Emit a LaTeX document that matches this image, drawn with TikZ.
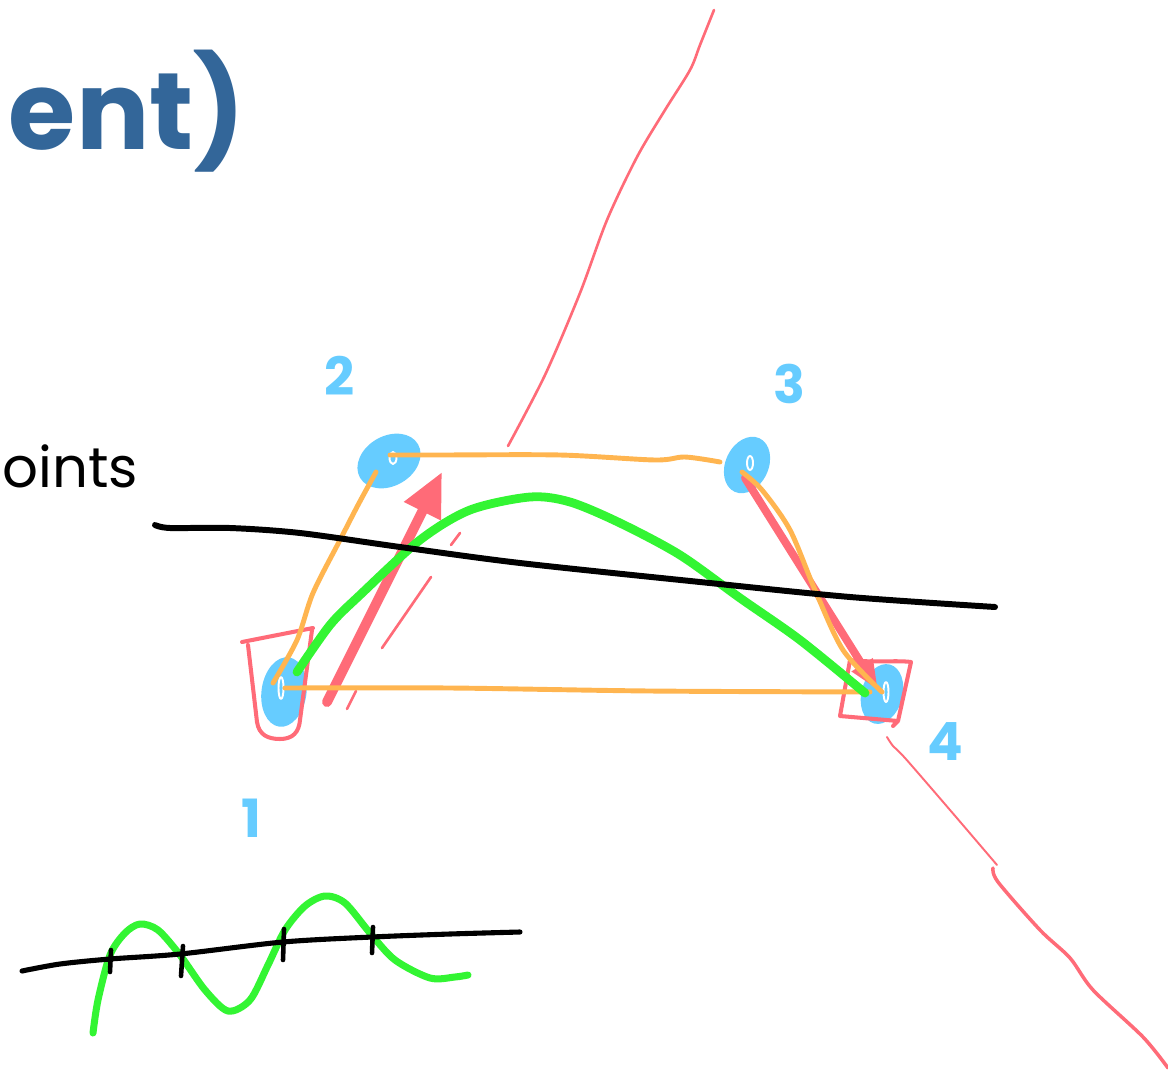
\documentclass[tikz,border=0pt]{standalone}
\usepackage{fontspec}
\setmainfont{Poppins}
\usetikzlibrary{positioning,arrows.meta,shapes.geometric}
\definecolor{dotblue}{HTML}{66CCFF}
\definecolor{penred}{HTML}{FF6B78}
\definecolor{penorange}{HTML}{FFB550}
\definecolor{pengreen}{HTML}{33F533}
\definecolor{titleblue}{HTML}{336699}

\begin{document}
\begin{tikzpicture}[x=0.02cm, y=-0.02cm,
  line cap=round, line join=round,
  blob/.style={ellipse, fill=dotblue, inner sep=0pt},
  hole/.style={draw=white, line width=1.1pt},
  num/.style={text=dotblue, inner sep=0pt, font=\fontsize{30}{32}\selectfont\bfseries},
  rdpen/.style={draw=penred, line width=2.3pt},
  hair/.style={draw=penred, line width=1.5pt},
  arr/.style={draw=penred, line width=5.7pt, -{Triangle[length=25pt,width=22pt]}},
  orpen/.style={draw=penorange, line width=2.8pt},
  grpen/.style={draw=pengreen, line width=5pt},
  blpen/.style={draw=black, line width=3.4pt}]
\useasboundingbox (0,0) rectangle (1168,1074);

% slide text at the left edge
\node[anchor=base east, inner sep=0pt, text=titleblue, font=\fontsize{62}{66}\selectfont\bfseries] (title) at (246,150) {ent)};
\node[anchor=base west, inner sep=0pt, font=\fontsize{32}{35}\selectfont] (pts) at (2,487) {oints};

% the four points
\node[blob, minimum width=0.9cm, minimum height=1.4cm, rotate=-8] (p1) at (284,692) {};
\node[blob, minimum width=1.34cm, minimum height=1cm, rotate=30] (p2) at (389,461) {};
\node[blob, minimum width=0.86cm, minimum height=1.18cm, rotate=-25] (p3) at (747,465) {};
\node[blob, minimum width=0.82cm, minimum height=1.22cm, rotate=-15] (p4) at (882,694) {};
\draw[hole] ([shift={(-3,-4)}]p1.center) ellipse [x radius=2.5, y radius=11];
\draw[hole] ([shift={(4,-3)}]p2.center) ellipse [x radius=3.5, y radius=6];
\draw[hole] ([shift={(3,-2)}]p3.center) ellipse [x radius=3, y radius=7];
\draw[hole] ([shift={(4,-2)}]p4.center) ellipse [x radius=2.5, y radius=10];

\node[num, on grid, below left=2.52cm and 0.66cm of p1] (n1) {1};
\node[num, on grid, above left=1.7cm and 0.98cm of p2] (n2) {2};
\node[num, on grid, above right=1.62cm and 0.84cm of p3] (n3) {3};
\node[num, on grid, below right=0.96cm and 1.26cm of p4] (n4) {4};

% red marks
\draw[rdpen] (242,642) -- (313,628)
  (248,645) -- (257,722) .. controls (259,735) and (268,739) .. (280,739)
  .. controls (293,739) and (299,732) .. (300,720) -- (312,630);
\draw[rdpen] (850,660) .. controls (875,663) and (895,660) .. (911,662)
  -- (898,721) -- (840,716) -- cycle (898,721) -- (893,726);
\draw[arr] ([shift={(43,10)}]p1.center) -- ([shift={(53,11)}]p2.center);
\draw[arr, line width=4.5pt, -{Triangle[length=17pt,width=13pt]}] ([shift={(-2,13)}]p3.center) -- ([shift={(-4,-4)}]p4.center);
\draw[hair] (460,533) -- (451,545) (431,577) -- (382,648) (356,691) -- (347,709);
\draw[hair] plot[smooth] coordinates {(508,446) (545,375) (580,293) (607,220) (637,157) (665,110) (690,70) (700,45) (714,10)};
\draw[hair, line width=1.1pt] plot[smooth] coordinates {(887,737) (893,746) (905,758) (950,810) (997,865)};
\draw[hair, line width=2pt] plot[smooth] coordinates {(993,868) (998,882) (1040,930) (1070,958) (1093,990) (1143,1037) (1168,1068)};

% orange sides
\draw[orpen] plot[smooth] coordinates {([shift={(1,-6)}]p2.center) (440,455) (560,455) (655,460) (685,457) ([shift={(-27,-3)}]p3.center)};
\draw[orpen] plot[smooth] coordinates {([shift={(-13,11)}]p2.center) (358,505) (340,540) (313,593) (297,640) ([shift={(-11,-9)}]p1.center)};
\draw[orpen] plot[smooth] coordinates {([shift={(1,-4)}]p1.center) (450,688) (650,691) ([shift={(-12,-2)}]p4.center)};
\draw[orpen] plot[smooth] coordinates {([shift={(-5,7)}]p3.center) (762,490) (790,530) (815,590) (843,650) ([shift={(0,-2)}]p4.center)};

% green curves
\draw[grpen] plot[smooth] coordinates {([shift={(13,-20)}]p1.center) (330,625) (360,595) (420,540) (470,510) (530,497) (570,502) (620,523) (680,555) (740,598) (800,640) ([shift={(-17,-1)}]p4.center)};
\draw[grpen, line width=4pt] plot[smooth] coordinates {(93,1033) (98,1000) (110,955) (125,933) (140,924) (158,930) (180,955) (205,990) (228,1011) (250,1000) (268,965) (285,930) (305,906) (325,896) (345,903) (370,933) (395,960) (430,978) (455,977) (468,975)};

% black lines
\draw[blpen] plot[smooth] coordinates {(155,525) (170,528) (230,528) (300,533) (400,547) (520,563) (700,582) (850,597) (995,607)};
\draw[blpen, line width=2.9pt] plot[smooth] coordinates {(22,971) (60,964) (110,959) (180,954) (283,942) (372,937) (450,934) (520,932)};
\draw[blpen, line width=2.6pt] (111,950) -- (110,972) (183,946) -- (181,976) (284,929) -- (283,960) (373,927) -- (372,953);
\end{tikzpicture}
\end{document}
